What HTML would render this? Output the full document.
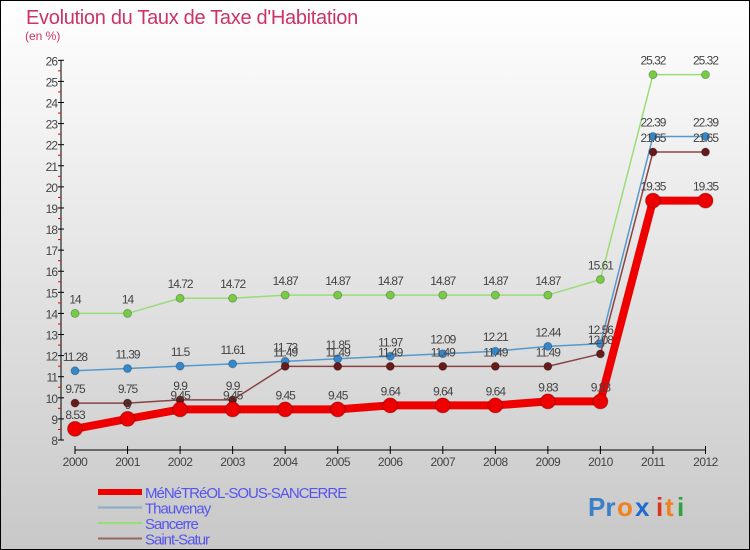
<!DOCTYPE html>
<html><head><meta charset="utf-8"><style>
body{margin:0;}
#c{position:relative;width:750px;height:550px;overflow:hidden;font-family:"Liberation Sans",sans-serif;}
</style></head><body>
<div id="c">
<svg id="s" width="750" height="550" xmlns="http://www.w3.org/2000/svg">
<defs><linearGradient id="bg" x1="0" y1="0" x2="0" y2="1"><stop offset="0" stop-color="#ffffff"/><stop offset="1" stop-color="#c8c8c8"/></linearGradient></defs>
<rect x="0.5" y="0.5" width="749" height="549" fill="url(#bg)" stroke="#000" stroke-width="1"/>
<text x="26" y="24" font-size="20" fill="#cc3366" letter-spacing="-0.3">Evolution du Taux de Taxe d'Habitation</text>
<text x="25" y="40" font-size="12" fill="#cc3366">(en %)</text>
<g id="axes"></g><g id="series"></g><g id="legend"></g>
<g font-size="26" font-weight="bold">
<text x="588" y="516" fill="#3a7fc8">Pr</text><text x="617" y="516" fill="#f08020">o</text><text x="635" y="516" fill="#1e6ad0">x</text><text x="656" y="516" fill="#e03020">i</text><text x="665" y="516" fill="#f08020">t</text><text x="677" y="516" fill="#30a040">i</text>
</g>
</svg></div>
<script>
const years=[2000,2001,2002,2003,2004,2005,2006,2007,2008,2009,2010,2011,2012];
const yTicks=[8,9,10,11,12,13,14,15,16,17,18,19,20,21,22,23,24,25,26];
const menetreol=[8.53,9,9.45,9.45,9.45,9.45,9.64,9.64,9.64,9.83,9.83,19.35,19.35];
const thauvenay=[11.28,11.39,11.5,11.61,11.73,11.85,11.97,12.09,12.21,12.44,12.56,22.39,22.39];
const sancerre=[14,14,14.72,14.72,14.87,14.87,14.87,14.87,14.87,14.87,15.61,25.32,25.32];
const saintSatur=[9.75,9.75,9.9,9.9,11.49,11.49,11.49,11.49,11.49,11.49,12.08,21.65,21.65];
const labMen=["8.53","9","9.45","9.45","9.45","9.45","9.64","9.64","9.64","9.83","9.83","19.35","19.35"];
const NS="http://www.w3.org/2000/svg";
function xS(i){return 75+i*(705.5-75)/12;}
function yS(v){return 60.3+(26-v)*(440-60.3)/18;}
function mk(t,a,p){const e=document.createElementNS(NS,t);for(const k in a)e.setAttribute(k,a[k]);p.appendChild(e);return e;}
const ax=document.getElementById('axes');
let e=mk('line',{x1:61,y1:yS(26),x2:61,y2:yS(8),stroke:'#000'},ax);


e=mk('line',{x1:75,y1:450,x2:705.5,y2:450,stroke:'#000'},ax);


yTicks.forEach(v=>{
 mk('line',{x1:58,y1:yS(v),x2:64,y2:yS(v),stroke:'#000'},ax);
 if(v<26)mk('line',{x1:58,y1:yS(v+0.5),x2:61,y2:yS(v+0.5),stroke:'#e00'},ax);
 const t=mk('text',{x:57,y:yS(v)+5,'font-size':12,'text-anchor':'end',fill:'#444','letter-spacing':'-1'},ax);t.textContent=v;
 
 
});
years.forEach((y,i)=>{
 mk('line',{x1:xS(i),y1:446,x2:xS(i),y2:454,stroke:'#000'},ax);
 const t=mk('text',{x:xS(i),y:466,'font-size':12,'text-anchor':'middle',fill:'#444','letter-spacing':'-0.5'},ax);t.textContent=y;
 
 
});
const sg=document.getElementById('series');
function series(name,vals,color,w,dot,dotc,labs){
 const g=mk('g',{},sg);
 
 
 mk('polyline',{points:vals.map((v,i)=>xS(i)+','+yS(v)).join(' '),fill:'none',stroke:color,'stroke-width':w,'stroke-linejoin':'round'},g);
 vals.forEach((v,i)=>{
  const c=mk('circle',{cx:xS(i),cy:yS(v),r:dot,fill:dotc,stroke:'rgba(0,0,0,0.25)'},g);
  
  
  const t=mk('text',{x:xS(i),y:yS(v)-10,'font-size':12,'text-anchor':'middle',fill:'#444','letter-spacing':'-1'},g);
  t.textContent=labs?labs[i]:String(v);
 });
}
series('series-sancerre',sancerre,'#99dd77',1.5,4,'#77cc44');
series('series-thauvenay',thauvenay,'#5599cc',1.5,4,'#3388cc');
series('series-saint-satur',saintSatur,'#884444',1.5,4,'#661a1a');
series('series-menetreol',menetreol,'#ee0000',8,7.5,'#ee0000',labMen);
const lg=document.getElementById('legend');
const items=[['MéNéTRéOL-SOUS-SANCERRE','#ee0000',6],['Thauvenay','#88aacc',2],['Sancerre','#99dd77',2],['Saint-Satur','#996666',2]];
items.forEach((it,i)=>{
 const y=492+i*15.5;
 const g=mk('g',{},lg);
 
 
 mk('line',{x1:98,y1:y,x2:142,y2:y,stroke:it[1],'stroke-width':it[2]},g);
 const t=mk('text',{x:145,y:y+6,'font-size':15,fill:'#5555ee','letter-spacing':'-1'},g);t.textContent=it[0];
});
</script>
</body></html>
